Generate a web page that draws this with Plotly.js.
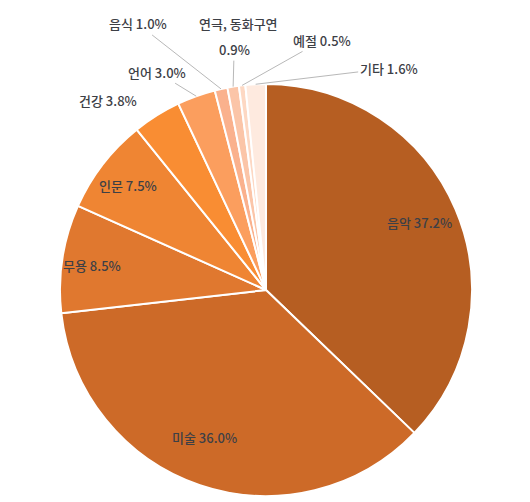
<!DOCTYPE html>
<html>
<head>
<meta charset="utf-8">
<script src="https://cdn.plot.ly/plotly-3.0.1.min.js"></script>
<style>
  html, body { margin: 0; padding: 0; background: #fff; }
  #chart { width: 530px; height: 502px; }
</style>
</head>
<body>
<div id="chart"></div>
<script>
// 분야별 비율 (%)
var labels = ['음악', '미술', '무용', '인문', '건강', '언어', '음식', '연극, 동화구연', '예절', '기타'];
var values = [37.2, 36.0, 8.5, 7.5, 3.8, 3.0, 1.0, 0.9, 0.5, 1.6];
var colors = ['#B65E22', '#CD6A28', '#E0782F', '#EF8533', '#F98D33',
              '#FB9E5E', '#FAB18D', '#FBC5A8', '#FDD8C3', '#FEEADF'];

// label offset from the slice's rim point (mid angle), in px (right / down)
var labelDx = [-36, 5, 30, 25, -49, -39, -83, 1, 80, 133];
var labelDy = [13, -48, 7, 21, -15, -24, -65, -37, -45, -16];
var labelLine = [false, false, false, false, false, true, true, true, true, true];

var W = 530, H = 502;
var cx = 266, cy = 290, R = 206;   // pie centre and radius in px

var trace = {
  type: 'pie',
  labels: labels,
  values: values,
  sort: false,
  direction: 'clockwise',
  rotation: 0,
  marker: { colors: colors, line: { color: '#ffffff', width: 2 } },
  textposition: 'none',
  hoverinfo: 'label+percent',
  showlegend: false,
  domain: {
    x: [(cx - R) / W, (cx + R) / W],
    y: [(H - cy - R) / H, (H - cy + R) / H]
  }
};

var font = { family: 'Noto Sans CJK KR, sans-serif', size: 13, weight: 500, color: '#3d4046' };
var total = values.reduce(function(a, b){ return a + b; }, 0);
var annotations = [];
var cum = 0;
for (var i = 0; i < values.length; i++) {
  var mid = (cum + values[i] / 2) / total * 2 * Math.PI;
  cum += values[i];
  var px = cx + R * Math.sin(mid);
  var py = cy - R * Math.cos(mid);
  var txt = labels[i] + ' ' + values[i].toFixed(1) + '%';
  if (labels[i] === '연극, 동화구연') {
    // name sits above the value here
    annotations.push({
      xref: 'paper', yref: 'paper', x: px / W, y: 1 - py / H,
      xanchor: 'center', yanchor: 'middle',
      showarrow: false, text: labels[i], font: font,
      xshift: labelDx[i] + 4, yshift: -labelDy[i] + 26
    });
    txt = values[i].toFixed(1) + '%';
  }
  if (labelLine[i]) {
    annotations.push({
      xref: 'paper', yref: 'paper', x: px / W, y: 1 - py / H,
      text: txt, font: font, showarrow: true, arrowhead: 0,
      arrowwidth: 1, arrowcolor: '#b8b8b8', standoff: 0,
      ax: labelDx[i], ay: labelDy[i]
    });
  } else {
    annotations.push({
      xref: 'paper', yref: 'paper', x: px / W, y: 1 - py / H,
      xanchor: 'center', yanchor: 'middle',
      showarrow: false, text: txt, font: font,
      xshift: labelDx[i], yshift: -labelDy[i]
    });
  }
}

var layout = {
  width: W,
  height: H,
  margin: { l: 0, r: 0, t: 0, b: 0 },
  paper_bgcolor: '#ffffff',
  annotations: annotations
};

Plotly.newPlot('chart', [trace], layout, { displayModeBar: false, staticPlot: true });
</script>
</body>
</html>
